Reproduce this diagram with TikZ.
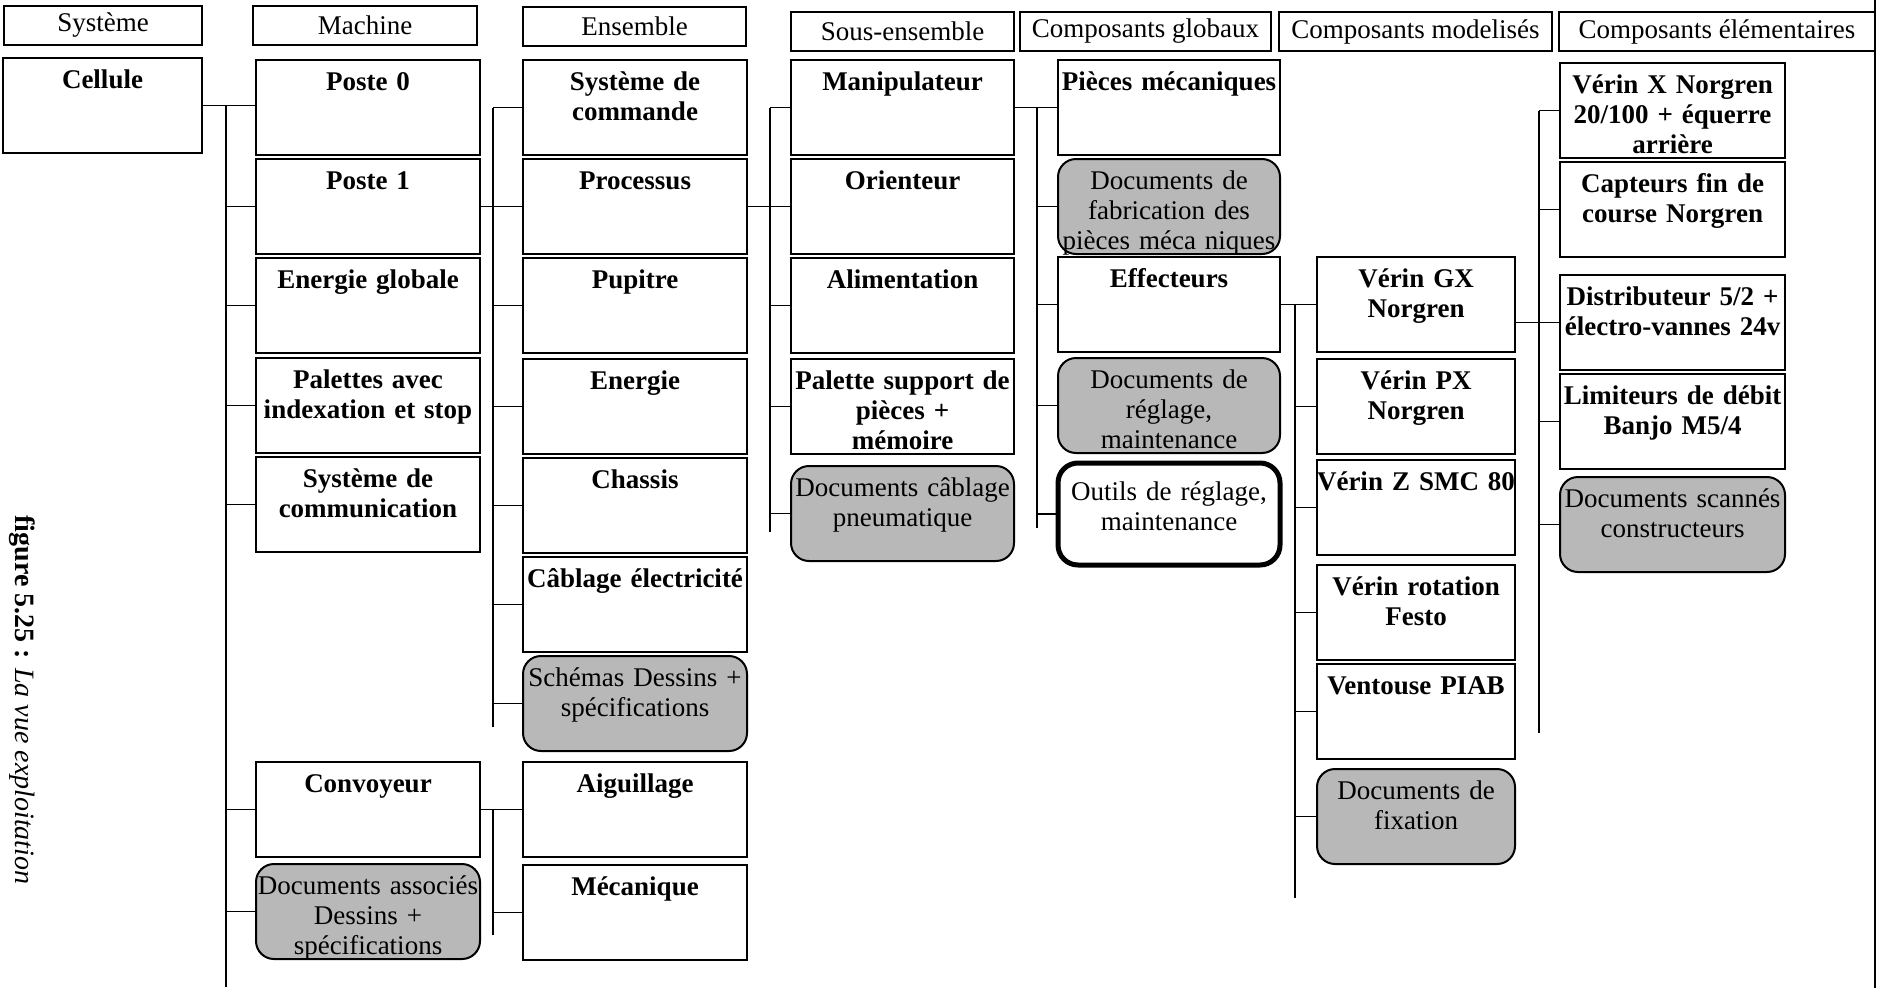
\documentclass[tikz,border=0pt]{standalone}
\usepackage{fontspec}
\setmainfont{Liberation Serif}
\usetikzlibrary{positioning}

\newcommand{\boxfont}{\fontsize{27}{30}\selectfont}

\tikzset{
    hdr/.style={draw, line width=1.5pt, font=\boxfont, minimum width=#1,
        minimum height=39pt, inner sep=0pt, outer sep=0pt, anchor=north west},
    elem/.style={draw, line width=2pt, font={\boxfont\bfseries}, text width=#1,
        align=center, inner xsep=0pt, inner ysep=0pt, outer sep=0pt,
        text height=30pt, text depth=65pt},
    doc/.style={elem=#1, fill=black!28, rounded corners=18pt, font=\boxfont},
    tool/.style={elem=#1, line width=5pt, rounded corners=20pt, font=\boxfont,
        text height=37pt, text depth=65pt},
    wire/.style={line width=1.5pt}
}

\begin{document}
\begin{tikzpicture}[x=1pt, y=-1pt, node distance=4pt]
    \useasboundingbox (0,0) rectangle (1886,988);

    % level headings
    \node[hdr=198pt] (hSys)  at (4,6)     {Système};
    \node[hdr=224pt] (hMach) at (253,6)   {Machine};
    \node[hdr=223pt] (hEns)  at (523,7)   {Ensemble};
    \node[hdr=223pt] (hSous) at (791,12)  {Sous-ensemble};
    \node[hdr=251pt] (hGlob) at (1020,12) {Composants globaux};
    \node[hdr=273pt] (hMod)  at (1279,12) {Composants modelisés};
    \node[hdr=316pt] (hElem) at (1559,12) {Composants élémentaires};

    % systeme
    \node[elem=199pt, anchor=north west] (cel) at (3,58) {Cellule};

    % machine
    \node[elem=224pt, anchor=north west] (p0) at (256,60) {Poste 0};
    \node[elem=224pt, below=of p0]       (p1)  {Poste 1};
    \node[elem=224pt, below=of p1]       (eg)  {Energie globale};
    \node[elem=224pt, below=5pt of eg]   (pal) {Palettes avec\\indexation et stop};
    \node[elem=224pt, below=of pal]      (com) {Système de\\communication};
    \node[elem=224pt, anchor=north west] (conv) at (256,762) {Convoyeur};
    \node[doc=224pt, below=7pt of conv]  (docA) {Documents associés\\Dessins +\\spécifications};

    % ensemble
    \node[elem=224pt, anchor=north west] (cmd) at (523,60) {Système de\\commande};
    \node[elem=224pt, below=of cmd]      (proc) {Processus};
    \node[elem=224pt, below=of proc]     (pup)  {Pupitre};
    \node[elem=224pt, below=6pt of pup]  (ener) {Energie};
    \node[elem=224pt, below=of ener]     (chas) {Chassis};
    \node[elem=224pt, below=of chas]     (cab)  {Câblage électricité};
    \node[doc=224pt, below=of cab]       (sch)  {Schémas Dessins +\\spécifications};
    \node[elem=224pt, anchor=north west] (aig) at (523,762) {Aiguillage};
    \node[elem=224pt, below=8pt of aig]  (meca) {Mécanique};

    % sous-ensemble
    \node[elem=223pt, anchor=north west] (mani) at (791,60) {Manipulateur};
    \node[elem=223pt, below=of mani]     (ori)  {Orienteur};
    \node[elem=223pt, below=of ori]      (alim) {Alimentation};
    \node[elem=223pt, below=6pt of alim] (psup) {Palette support de\\pièces +\\mémoire};
    \node[doc=223pt, below=12pt of psup] (docC) {Documents câblage\\pneumatique};

    % composants globaux
    \node[elem=222pt, anchor=north west] (pm) at (1058,60) {Pièces mécaniques};
    \node[doc=222pt, below=of pm]        (docF) {Documents de\\fabrication des\\pièces méca niques};
    \node[elem=222pt, below=3pt of docF] (eff)  {Effecteurs};
    \node[doc=222pt, below=6pt of eff]   (docR) {Documents de\\réglage,\\maintenance};
    \node[tool=222pt, below=10pt of docR] (outil) {Outils de réglage,\\maintenance};

    % composants modelises
    \node[elem=198pt, anchor=north west] (gx) at (1317,257) {Vérin GX\\Norgren};
    \node[elem=198pt, below=7pt of gx]   (px)   {Vérin PX\\Norgren};
    \node[elem=198pt, below=6pt of px]   (vz)   {Vérin Z SMC 80};
    \node[elem=198pt, below=10pt of vz]  (rot)  {Vérin rotation\\Festo};
    \node[elem=198pt, below=of rot]      (vent) {Ventouse PIAB};
    \node[doc=198pt, below=10pt of vent] (docX) {Documents de\\fixation};

    % composants elementaires
    \node[elem=225pt, anchor=north west] (vx) at (1560,63) {Vérin X Norgren\\20/100 + équerre\\arrière};
    \node[elem=225pt, below=of vx]       (capt) {Capteurs fin de\\course Norgren};
    \node[elem=225pt, below=18pt of capt] (dist) {Distributeur 5/2 +\\électro-vannes 24v};
    \node[elem=225pt, below=of dist]     (lim)  {Limiteurs de débit\\Banjo M5/4};
    \node[doc=225pt, below=8pt of lim]   (docS) {Documents scannés\\constructeurs};

    % bus ends
    \coordinate (bus1) at (226,987);
    \coordinate (bus2) at (493,727);
    \coordinate (bus3) at (493,935);
    \coordinate (bus4) at (770,532);
    \coordinate (bus5) at (1037,528);
    \coordinate (bus6) at (1295,898);
    \coordinate (bus7) at (1539,733);

    \draw[wire]
        (cel.east) -- (cel.east -| p0.west)
        (bus1 |- cel.east) -- (bus1)
        (bus1 |- p1.west) -- (p1.west)
        (bus1 |- eg.west) -- (eg.west)
        (bus1 |- pal.west) -- (pal.west)
        (bus1 |- com.west) -- (com.west)
        (bus1 |- conv.west) -- (conv.west)
        (bus1 |- docA.west) -- (docA.west);

    \draw[wire]
        (p1.east) -- (p1.east -| proc.west)
        (bus2 |- cmd.west) -- (bus2)
        (bus2 |- cmd.west) -- (cmd.west)
        (bus2 |- pup.west) -- (pup.west)
        (bus2 |- ener.west) -- (ener.west)
        (bus2 |- chas.west) -- (chas.west)
        (bus2 |- cab.west) -- (cab.west)
        (bus2 |- sch.west) -- (sch.west);

    \draw[wire]
        (conv.east) -- (conv.east -| aig.west)
        (bus3 |- conv.east) -- (bus3)
        (bus3 |- meca.west) -- (meca.west);

    \draw[wire]
        (proc.east) -- (proc.east -| ori.west)
        (bus4 |- mani.west) -- (bus4)
        (bus4 |- mani.west) -- (mani.west)
        (bus4 |- alim.west) -- (alim.west)
        (bus4 |- psup.west) -- (psup.west)
        (bus4 |- docC.west) -- (docC.west);

    \draw[wire]
        (mani.east) -- (mani.east -| pm.west)
        (bus5 |- mani.east) -- (bus5)
        (bus5 |- docF.west) -- (docF.west)
        (bus5 |- eff.west) -- (eff.west)
        (bus5 |- docR.west) -- (docR.west)
        (bus5 |- outil.west) -- (outil.west);

    \draw[wire]
        (eff.east) -- (eff.east -| gx.west)
        (bus6 |- eff.east) -- (bus6)
        (bus6 |- px.west) -- (px.west)
        (bus6 |- vz.west) -- (vz.west)
        (bus6 |- rot.west) -- (rot.west)
        (bus6 |- vent.west) -- (vent.west)
        (bus6 |- docX.west) -- (docX.west);

    \draw[wire]
        (gx.east |- dist.west) -- (dist.west)
        (bus7 |- vx.west) -- (bus7)
        (bus7 |- vx.west) -- (vx.west)
        (bus7 |- capt.west) -- (capt.west)
        (bus7 |- lim.west) -- (lim.west)
        (bus7 |- docS.west) -- (docS.west);

    % page edge
    \draw[line width=2pt] (1875,0) -- (1875,988);

    \node[rotate=-90, font=\fontsize{28}{30}\selectfont] (fig) at (22,700)
        {\textbf{figure 5.25 :} \textit{La vue exploitation}};
\end{tikzpicture}
\end{document}
